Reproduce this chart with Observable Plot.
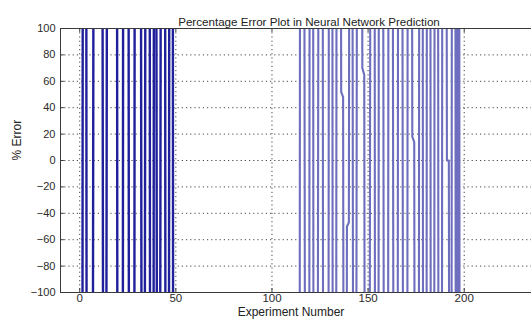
<!DOCTYPE html>
<html>
<head>
<meta charset="utf-8">
<script src="https://cdn.jsdelivr.net/npm/d3@7"></script>
<script src="https://cdn.jsdelivr.net/npm/@observablehq/plot@0.6"></script>
<style>
  html, body { margin: 0; padding: 0; background: #fff; overflow: hidden; }
  #chart svg { display: block; }
</style>
</head>
<body>
<div id="chart"></div>
<script>
// Percentage error of the network's prediction for each experiment.
// Errors far outside ±100 % are stored as ±999 and get clipped by the axis range.
const firstRunStart = 1;
const firstRunErrors = [
  -999, 999, 999, -999, -999, -999, 0, 999, 999, 999,
  999, 0, -999, 0, 999, 999, 999, 999, 999, -999,
  -999, -999, 999, 999, 999, -999, -999, -999, 999, 999,
  999, 0, -999, 0, 999, 999, -999, -999, 999, 0,
  -999, 0, 999, 999, -999, -999, 999, 999, -999
];

const secondRunStart = 113;
const secondRunErrors = [
  -999, -999, 999, 999, 0, -999, -999, 999, 999, -999,
  -999, 0, 999, 999, -999, -999, -999, 999, 999, -999,
  -999, 999, 999, 52, 48, -999, -50, -47, 999, 43,
  -999, -45, 999, 999, 70, 65, -999, -999, 0, 999,
  999, -999, -999, 999, 999, 6, -999, -999, 999, 999,
  15, -999, -999, 999, 999, 0, -999, -999, 999, 999,
  18, 14, -999, -999, 999, 999, -999, -999, 999, 999,
  -999, -999, 999, 999, -999, -999, 999, 999, 0, 0,
  -999, 999, 999, -999, 999, -999, -999, -999
];

const xTicks = [0, 50, 100, 150, 200];
const yTicks = [-100, -80, -60, -40, -20, 0, 20, 40, 60, 80, 100];
const xDomain = [-10, 235];
const yDomain = [-100, 100];

const titleText = "Percentage Error Plot in Neural Network Prediction";
const xLabel = "Experiment Number";
const yLabel = "% Error";

const toRows = (start, values) => values.map((error, i) => ({experiment: start + i, error}));
const firstRun = toRows(firstRunStart, firstRunErrors);
const secondRun = toRows(secondRunStart, secondRunErrors);

const font = "'Liberation Sans', Arial, Helvetica, sans-serif";
const frameColor = "#3a3a3a";
const gridStyle = {stroke: "#333", strokeOpacity: 0.9, strokeDasharray: "1.2,3", strokeWidth: 1};

const chart = Plot.plot({
  width: 531,
  height: 322,
  marginLeft: 60,
  marginRight: 0,
  marginTop: 28,
  marginBottom: 30,
  style: {fontFamily: font, fontSize: "11px", color: "#2a2a2a", background: "#fff"},
  x: {domain: xDomain, ticks: xTicks},
  y: {domain: yDomain, ticks: yTicks},
  marks: [
    Plot.gridX(xTicks, gridStyle),
    Plot.gridY(yTicks, gridStyle),
    Plot.line(firstRun, {x: "experiment", y: "error", stroke: "#20209c", strokeWidth: 2.4, clip: true}),
    Plot.line(secondRun, {x: "experiment", y: "error", stroke: "#6e6ebe", strokeWidth: 2.1, clip: true}),
    // axis box (left, top, bottom) with inward tick marks
    Plot.ruleX([xDomain[0]], {stroke: frameColor}),
    Plot.ruleY(yDomain, {stroke: frameColor}),
    Plot.ruleX(xTicks, {y1: yDomain[0], y2: yDomain[0] + 3, stroke: frameColor}),
    Plot.ruleX(xTicks, {y1: yDomain[1], y2: yDomain[1] - 3, stroke: frameColor}),
    Plot.ruleY(yTicks, {x1: xDomain[0], x2: xDomain[0] + 2, stroke: frameColor}),
    Plot.axisX(xTicks, {tickSize: 0, tickPadding: 1, label: null, fontSize: 11.5, fill: "#2a2a2a"}),
    Plot.axisY(yTicks, {tickSize: 0, tickPadding: 5, label: null, fontSize: 11, fill: "#2a2a2a"}),
    Plot.text([titleText], {frameAnchor: "top", dy: -11, dx: 13, fontSize: 11.6, fill: "#222"}),
    Plot.text([xLabel], {frameAnchor: "bottom", dy: 23.5, dx: -5, fontSize: 12, fill: "#222"}),
    Plot.text([yLabel], {frameAnchor: "left", dx: -43, rotate: -90, fontSize: 12, fill: "#222"})
  ]
});

document.getElementById("chart").appendChild(chart);
</script>
</body>
</html>
